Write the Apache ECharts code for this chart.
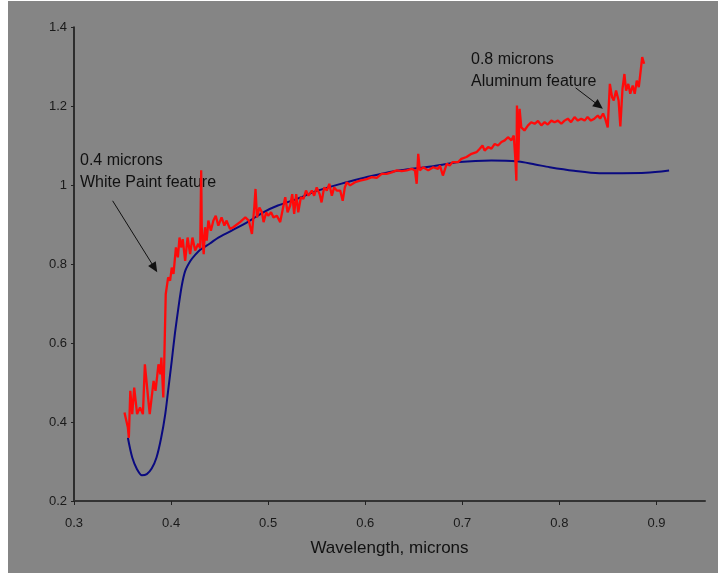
<!DOCTYPE html>
<html>
<head>
<meta charset="utf-8">
<script src="https://cdn.jsdelivr.net/npm/echarts@6/dist/echarts.min.js"></script>
<style>
  html, body { margin: 0; padding: 0; background: #ffffff; }
  #chart { position: absolute; left: 8px; top: 1px; width: 710px; height: 572px; }
</style>
</head>
<body>
<div id="chart"></div>
<script>
// measured reflectance (red, noisy)
var redX = [0.352, 0.3555, 0.3565, 0.358, 0.360, 0.362, 0.365, 0.368, 0.371, 0.373, 0.376, 0.378, 0.382, 0.384, 0.387, 0.389, 0.390, 0.392, 0.393,
  0.3945, 0.3955, 0.397, 0.399, 0.4007, 0.4025, 0.405, 0.407, 0.4087, 0.4103, 0.412, 0.4145, 0.417, 0.4196, 0.422, 0.4248, 0.428, 0.430,
  0.431, 0.4316, 0.4336, 0.435, 0.4367, 0.4384, 0.441, 0.4436, 0.446, 0.4487, 0.452, 0.4549, 0.457, 0.4607, 0.464, 0.466, 0.471, 0.4765,
  0.480, 0.4833, 0.4857, 0.487, 0.4885, 0.491, 0.4936, 0.4953, 0.498, 0.500, 0.503, 0.5055, 0.509, 0.5124, 0.5158, 0.5176, 0.520, 0.5227,
  0.5248, 0.5268, 0.5289, 0.531, 0.5337, 0.5364, 0.539, 0.5415, 0.545, 0.5474, 0.550, 0.553, 0.555, 0.5577, 0.5604, 0.563, 0.5656, 0.568,
  0.5707, 0.5742, 0.5768, 0.579, 0.581, 0.5844, 0.5895, 0.5947, 0.6015, 0.6067, 0.6118, 0.617, 0.622, 0.6272, 0.6324, 0.6375, 0.6427,
  0.6478, 0.6512, 0.653, 0.6546, 0.6563, 0.6597, 0.6649, 0.670, 0.675, 0.677, 0.680, 0.684, 0.687, 0.690, 0.6957, 0.699, 0.7043, 0.7095,
  0.7146, 0.718, 0.7208, 0.723, 0.7266, 0.730, 0.7334, 0.7368, 0.7403, 0.7437, 0.747, 0.7506, 0.753, 0.7545, 0.7557, 0.7563, 0.7577,
  0.759, 0.7608, 0.764, 0.7677, 0.771, 0.7745, 0.778, 0.7814, 0.7848, 0.788, 0.7917, 0.795, 0.7985, 0.802, 0.8053, 0.8087, 0.812, 0.8156,
  0.819, 0.8225, 0.826, 0.829, 0.8325, 0.836, 0.8396, 0.842, 0.845, 0.8472, 0.8498, 0.851, 0.852, 0.8543, 0.856, 0.8584, 0.861, 0.8628,
  0.865, 0.867, 0.8687, 0.871, 0.873, 0.8755, 0.8776, 0.8797, 0.8818, 0.8838, 0.8853, 0.8873];
var redY = [0.424, 0.386, 0.36, 0.479, 0.42, 0.487, 0.42, 0.437, 0.42, 0.546, 0.47, 0.42, 0.504, 0.479, 0.546, 0.521, 0.563, 0.462, 0.555,
  0.724, 0.741, 0.766, 0.758, 0.791, 0.775, 0.842, 0.817, 0.867, 0.842, 0.863, 0.808, 0.867, 0.825, 0.867, 0.834, 0.851, 0.84,
  1.037, 0.893, 0.825, 0.893, 0.859, 0.910, 0.884, 0.910, 0.922, 0.897, 0.918, 0.897, 0.910, 0.889, 0.893, 0.897, 0.906, 0.918,
  0.910, 0.876, 0.943, 0.990, 0.918, 0.943, 0.931, 0.906, 0.931, 0.922, 0.931, 0.918, 0.922, 0.906, 0.948, 0.969, 0.931, 0.948,
  0.977, 0.927, 0.977, 0.931, 0.969, 0.965, 0.986, 0.973, 0.986, 0.973, 0.994, 0.977, 0.956, 0.994, 0.986, 1.003, 0.973, 0.994,
  0.986, 0.986, 0.960, 0.994, 1.007, 0.999, 1.007, 1.011, 1.015, 1.020, 1.018, 1.028, 1.028, 1.032, 1.037, 1.035, 1.037,
  1.041, 1.037, 1.003, 1.079, 1.037, 1.045, 1.037, 1.045, 1.041, 1.049, 1.024, 1.054, 1.049, 1.058, 1.058, 1.066, 1.071, 1.079,
  1.083, 1.092, 1.100, 1.087, 1.096, 1.092, 1.104, 1.100, 1.109, 1.113, 1.121, 1.113, 1.125, 1.071, 1.011, 1.201, 1.062,
  1.193, 1.146, 1.138, 1.151, 1.159, 1.155, 1.162, 1.151, 1.159, 1.153, 1.163, 1.159, 1.163, 1.155, 1.163, 1.168, 1.159, 1.172,
  1.163, 1.168, 1.163, 1.172, 1.163, 1.168, 1.176, 1.168, 1.181, 1.168, 1.146, 1.145, 1.256, 1.222, 1.214, 1.239, 1.214, 1.148,
  1.243, 1.281, 1.239, 1.256, 1.231, 1.252, 1.231, 1.264, 1.248, 1.290, 1.324, 1.307];

// smooth model curve (blue)
var blueX = [0.3555, 0.360, 0.365, 0.370, 0.375, 0.380, 0.385, 0.3898, 0.394, 0.397, 0.4007, 0.404, 0.4076, 0.411, 0.4145, 0.420, 0.4248,
  0.430, 0.440, 0.4487, 0.462, 0.480, 0.495, 0.510, 0.530, 0.550, 0.581, 0.600, 0.630, 0.668, 0.697, 0.730, 0.756, 0.775, 0.790,
  0.815, 0.841, 0.865, 0.889, 0.913];
var blueY = [0.36, 0.31, 0.28, 0.265, 0.268, 0.282, 0.31, 0.36, 0.42, 0.48, 0.555, 0.625, 0.690, 0.745, 0.782, 0.808, 0.823,
  0.836, 0.852, 0.867, 0.884, 0.908, 0.931, 0.948, 0.965, 0.985, 1.007, 1.019, 1.035, 1.047, 1.058, 1.062, 1.06, 1.052, 1.045,
  1.036, 1.03, 1.03, 1.031, 1.037];

var xTicks = { min: 0.3, max: 0.95, step: 0.1 };
var yTicks = { min: 0.2, max: 1.4, step: 0.2 };

// annotation arrows: [start, end] in data units
var arrowPaint = [[0.3398, 0.96], [0.383, 0.79]];
var arrowAlu = [[0.8167, 1.246], [0.8407, 1.201]];

function zip(xs, ys) {
  var out = [];
  for (var i = 0; i < xs.length; i++) out.push([xs[i], ys[i]]);
  return out;
}

var chart = echarts.init(document.getElementById('chart'), null, { renderer: 'canvas' });

var font = '"Liberation Sans", Arial, sans-serif';

var option = {
  backgroundColor: '#858585',
  animation: false,
  grid: { left: 66, right: 13, top: 26, bottom: 72 },
  xAxis: {
    type: 'value',
    min: xTicks.min,
    max: xTicks.max,
    interval: xTicks.step,
    name: 'Wavelength, microns',
    nameLocation: 'middle',
    nameGap: 39,
    nameTextStyle: { color: '#111', fontSize: 17, fontFamily: font },
    axisLine: { onZero: false, lineStyle: { color: '#333', width: 2 } },
    axisTick: { length: 4, lineStyle: { color: '#222' } },
    axisLabel: {
      color: '#1a1a1a', fontSize: 13, fontFamily: font, margin: 16,
      showMaxLabel: false,
      formatter: function (v) { return (Math.round(v * 10) / 10).toString(); }
    },
    splitLine: { show: false }
  },
  yAxis: {
    type: 'value',
    min: yTicks.min,
    max: yTicks.max,
    interval: yTicks.step,
    axisLine: { onZero: false, lineStyle: { color: '#111', width: 1.5 } },
    axisTick: { length: 3, lineStyle: { color: '#222' } },
    axisLabel: {
      color: '#1a1a1a', fontSize: 13, fontFamily: font, margin: 7,
      formatter: function (v) { return (Math.round(v * 10) / 10).toString(); }
    },
    splitLine: { show: false }
  },
  series: [{
    name: 'model',
    type: 'line',
    data: zip(blueX, blueY),
    smooth: 0.3,
    showSymbol: false,
    lineStyle: { color: '#0a0a80', width: 2 },
    z: 2
  }, {
    name: 'measured',
    type: 'line',
    data: zip(redX, redY),
    showSymbol: false,
    lineStyle: { color: '#ff0a0a', width: 2.3 },
    z: 3,
    markLine: {
      silent: true,
      symbol: ['none', 'triangle'],
      symbolSize: [9, 10],
      label: { show: false },
      lineStyle: { color: '#111', width: 1, type: 'solid' },
      data: [
        [{ coord: arrowPaint[0] }, { coord: arrowPaint[1] }],
        [{ coord: arrowAlu[0] }, { coord: arrowAlu[1] }]
      ]
    }
  }],
  graphic: [{
    type: 'text',
    left: 72,
    top: 149,
    style: {
      text: '0.4 microns\nWhite Paint feature',
      fill: '#111',
      font: '16px ' + font,
      lineHeight: 22
    }
  }, {
    type: 'text',
    left: 463,
    top: 48,
    style: {
      text: '0.8 microns\nAluminum feature',
      fill: '#111',
      font: '16px ' + font,
      lineHeight: 22
    }
  }]
};

chart.setOption(option);
</script>
</body>
</html>
